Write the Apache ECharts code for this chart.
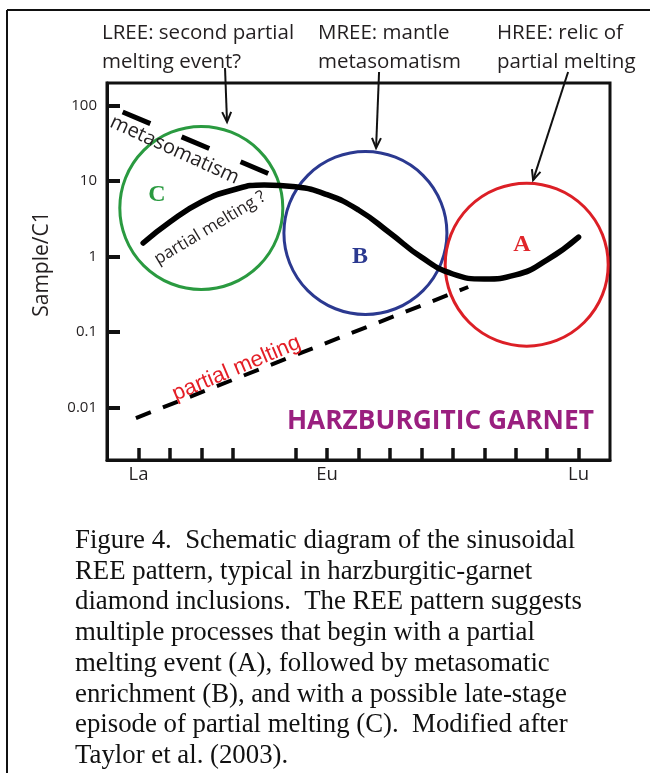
<!DOCTYPE html>
<html><head><meta charset="utf-8">
<script src="https://cdn.jsdelivr.net/npm/echarts@6/dist/echarts.min.js"></script>
<style>html,body{margin:0;padding:0;background:#fff}#c{width:650px;height:773px}</style>
</head><body><div id="c"></div>
<script>
// ---- data ----
const elements = ['', 'La','Ce','Pr','Nd','Pm','Sm','Eu','Gd','Tb','Dy','Ho','Er','Tm','Yb','Lu',''];
const labeledElements = ['La','Eu','Lu'];
const untickedElements = ['', 'Pm'];
const yTicks = [0.01, 0.1, 1, 10, 100];
const yTickLabels = ['0.01', '0.1', '1', '10', '100'];
// x = element index (La = 0 ... Lu = 14), y = Sample/C1
const sinusoidalPattern = [[0.15,1.51],[1,2.87],[2,5.28],[3,7.62],[4,8.9],[5,8.4],[6,6.6],[7,4.14],[8,2.05],[9,0.98],[10,0.586],[11,0.503],[12,0.569],[13,0.90],[14,1.81]];
const metasomatismTrend = [[-0.97,100],[4.25,12.0]];
const partialMeltingTrend = [[-0.08,0.0072],[10.49,0.394]];
const circleNames = ['C','B','A'];
const circleCenters = [[2.0,4.4],[7.22,2.05],[12.35,0.78]];
const letterPositions = [[0.59,6.5],[7.05,0.98],[12.2,1.42]];
const trendLabelTexts = ['metasomatism','partial melting ?','partial melting'];
const trendLabelPositions = [[1.15,25.8],[2.28,2.39],[3.12,0.0327]];
const trendLabelAngles = [-24.5, 31, 23];
// arrows: [tailX, tailY, headX, headY]
const arrows = [[2.754,316,2.818,60.8],[7.654,280,7.559,27.5],[13.667,280,12.554,10.3]];
const annotationTexts = ['LREE: second partial\nmelting event?','MREE: mantle\nmetasomatism','HREE: relic of\npartial melting'];
const captionText = 'Figure 4.  Schematic diagram of the sinusoidal\nREE pattern, typical in harzburgitic-garnet\ndiamond inclusions.  The REE pattern suggests\nmultiple processes that begin with a partial\nmelting event (A), followed by metasomatic\nenrichment (B), and with a possible late-stage\nepisode of partial melting (C).  Modified after\nTaylor et al. (2003).';

// ---- styles ----
const SANS = '"Open Sans", "Noto Sans", sans-serif';
const SERIF = '"Liberation Serif", "DejaVu Serif", serif';
const INK = '#231f20';
const circleColors = ['#2a9a40','#2b3990','#dc1f26'];
const letterColors = ['#2a9a40','#2b3990','#e0262b'];
const trendLabelStyles = [
  {fontFamily: SANS, fontSize: 20, color: INK},
  {fontFamily: SANS, fontSize: 17, color: INK},
  {fontFamily: '"Liberation Sans", Arial, sans-serif', fontSize: 22, color: '#e41e26'}
];

const chart = echarts.init(document.getElementById('c'), null, {renderer: 'canvas'});

const option = {
  animation: false,
  backgroundColor: '#fff',
  grid: {left: 107, top: 83, width: 503, height: 377, show: true, borderColor: '#111', borderWidth: 3, containLabel: false},
  xAxis: [
    {
      type: 'category', data: elements, boundaryGap: false, position: 'bottom',
      axisLine: {show: true, onZero: false, lineStyle: {color: '#111', width: 3}},
      axisTick: {show: true, inside: true, length: 12, lineStyle: {color: '#111', width: 3.5},
        interval: (i, v) => !untickedElements.includes(v)},
      axisLabel: {show: true, margin: 5, fontSize: 18.5, fontFamily: SANS, color: INK,
        interval: (i, v) => labeledElements.includes(v)},
      splitLine: {show: false}
    },
    {type: 'value', min: -1, max: 15, show: false}
  ],
  yAxis: {
    type: 'log', logBase: 10, min: 0.002, max: 200,
    axisLine: {show: true, onZero: false, lineStyle: {color: '#111', width: 3}},
    axisTick: {show: true, inside: true, length: 13, lineStyle: {color: '#111', width: 4}},
    axisLabel: {show: true, margin: 10, fontSize: 15, fontFamily: SANS, color: INK,
      showMinLabel: false, showMaxLabel: false,
      formatter: v => {
        for (let i = 0; i < yTicks.length; i++) if (Math.abs(Math.log10(v) - Math.log10(yTicks[i])) < 1e-6) return yTickLabels[i];
        return '';
      }},
    splitLine: {show: false}, minorTick: {show: false}
  },
  series: [
    {
      type: 'scatter', xAxisIndex: 1, silent: true, clip: false, z: 1,
      symbol: 'circle', symbolSize: 163,
      data: circleCenters.map((c, i) => ({name: circleNames[i], value: c,
        itemStyle: {color: 'rgba(0,0,0,0)', opacity: 1, borderColor: circleColors[i], borderWidth: 3}})),
      emphasis: {disabled: true}
    },
    {
      type: 'line', xAxisIndex: 1, silent: true, z: 3, data: sinusoidalPattern,
      smooth: 0.5, symbol: 'none', showSymbol: false,
      lineStyle: {color: '#000', width: 5.5, cap: 'round'}
    },
    {
      type: 'line', xAxisIndex: 1, silent: true, z: 3, data: metasomatismTrend, clip: false,
      symbol: 'none', showSymbol: false,
      lineStyle: {color: '#000', width: 5, type: [30, 34], dashOffset: 48, cap: 'butt'}
    },
    {
      type: 'line', xAxisIndex: 1, silent: true, z: 3, data: partialMeltingTrend,
      symbol: 'none', showSymbol: false,
      lineStyle: {color: '#000', width: 4, type: [16, 13], cap: 'butt'}
    },
    {
      type: 'scatter', xAxisIndex: 1, silent: true, clip: false, z: 4,
      symbolSize: 1, itemStyle: {color: 'rgba(0,0,0,0)', opacity: 1},
      data: letterPositions.map((p, i) => ({name: circleNames[i], value: p,
        label: {show: true, position: 'inside', formatter: '{b}', fontFamily: SERIF, fontWeight: 'bold', fontSize: 24, color: letterColors[i], opacity: 1}})),
      emphasis: {disabled: true}
    },
    {
      type: 'scatter', xAxisIndex: 1, silent: true, clip: false, z: 4,
      symbolSize: 1, itemStyle: {color: 'rgba(0,0,0,0)', opacity: 1},
      data: trendLabelPositions.map((p, i) => ({name: trendLabelTexts[i], value: p,
        label: Object.assign({show: true, position: 'inside', formatter: '{b}', rotate: trendLabelAngles[i], opacity: 1}, trendLabelStyles[i])})),
      emphasis: {disabled: true}
    },
    {
      type: 'custom', xAxisIndex: 1, silent: true, clip: false, z: 5, data: arrows,
      encode: {x: [0, 2], y: [1, 3]},
      renderItem: (params, api) => {
        const p0 = api.coord([api.value(0), api.value(1)]);
        const p1 = api.coord([api.value(2), api.value(3)]);
        const ang = Math.atan2(p1[1] - p0[1], p1[0] - p0[0]);
        const L = 11, a = 0.42;
        const h1 = [p1[0] - L * Math.cos(ang - a), p1[1] - L * Math.sin(ang - a)];
        const h2 = [p1[0] - L * Math.cos(ang + a), p1[1] - L * Math.sin(ang + a)];
        return {type: 'group', children: [
          {type: 'line', shape: {x1: p0[0], y1: p0[1], x2: p1[0], y2: p1[1]}, style: {stroke: '#111', lineWidth: 2}},
          {type: 'polyline', shape: {points: [h1, p1, h2]}, style: {stroke: '#111', lineWidth: 2, fill: null}}
        ]};
      }
    }
  ],
  graphic: [
    {type: 'line', shape: {x1: 7, y1: 10, x2: 650, y2: 10}, style: {stroke: '#111', lineWidth: 2}},
    {type: 'line', shape: {x1: 7, y1: 10, x2: 7, y2: 773}, style: {stroke: '#111', lineWidth: 2}},
    {type: 'text', x: 102, y: 47.5, style: {text: annotationTexts[0], font: '20.5px ' + SANS, fill: INK, lineHeight: 29, verticalAlign: 'middle', align: 'left'}},
    {type: 'text', x: 318, y: 47.5, style: {text: annotationTexts[1], font: '20.5px ' + SANS, fill: INK, lineHeight: 29, verticalAlign: 'middle', align: 'left'}},
    {type: 'text', x: 497, y: 47.5, style: {text: annotationTexts[2], font: '20.5px ' + SANS, fill: INK, lineHeight: 29, verticalAlign: 'middle', align: 'left'}},
    {type: 'text', x: 42, y: 264, rotation: Math.PI / 2, style: {text: 'Sample/C1', font: '21px ' + SANS, fill: INK, align: 'center', verticalAlign: 'middle'}},
    {type: 'text', x: 287, y: 422, style: {text: 'HARZBURGITIC GARNET', font: 'bold 26.3px ' + SANS, fill: '#9a1f7f', align: 'left', verticalAlign: 'middle'}},
    {type: 'text', x: 75, y: 648.5, style: {text: captionText, font: '26.8px ' + SERIF, fill: '#111', lineHeight: 30.7, align: 'left', verticalAlign: 'middle'}}
  ]
};
chart.setOption(option);
</script>
</body></html>
